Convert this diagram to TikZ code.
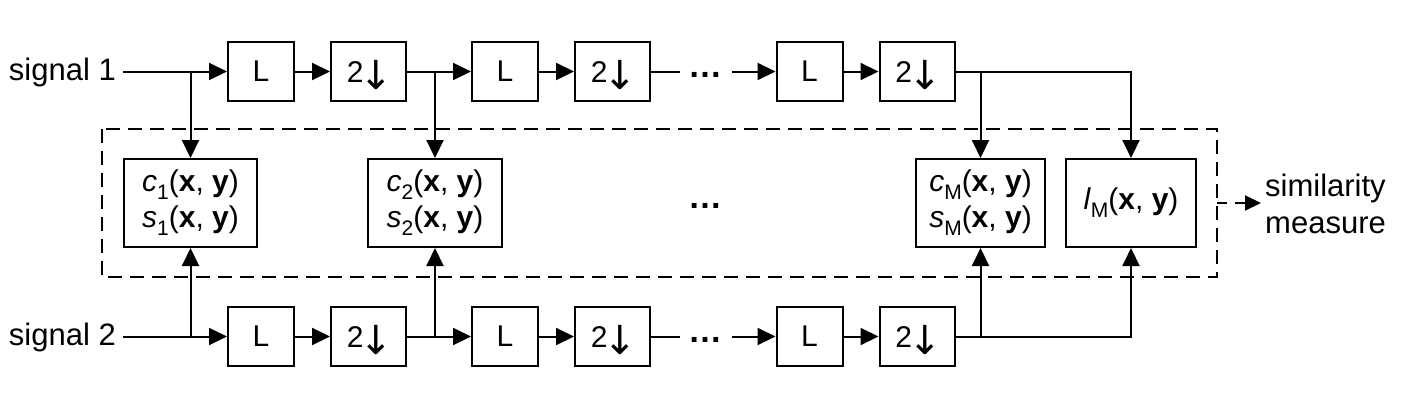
\documentclass[tikz,border=0pt]{standalone}
\usepackage{fontspec}
\setmainfont{Liberation Sans}
\newfontfamily\dejavu{DejaVu Sans}
\usetikzlibrary{arrows.meta}
\newcommand\lowsub[1]{\raisebox{-0.5ex}{\fontsize{21}{21}\selectfont #1}}
\newcommand\dnarrow{{\dejavu\fontsize{40}{40}\selectfont\kern-4pt\raisebox{-7pt}{↓}\kern-3pt}}
\begin{document}
\begin{tikzpicture}[x=1pt,y=-1pt,
  lw/.style={line width=2pt},
  blk/.style={draw,lw,inner sep=0pt,font=\fontsize{30}{36}\selectfont,align=center},
  lbox/.style={blk,minimum width=66pt,minimum height=59pt},
  dbox/.style={blk,minimum width=75pt,minimum height=59pt,text height=21pt,text depth=0pt},
  mbox/.style={blk,minimum height=88pt},
  arr/.style={lw,-{Triangle[length=18pt,width=17pt]}},
  lab/.style={font=\fontsize{31}{37}\selectfont,inner sep=0pt},
  dots/.style={inner sep=0pt,anchor=base,font=\fontsize{34}{36}\selectfont\bfseries}
]
\useasboundingbox (0,0) rectangle (1420,402);

% top row
\node[lab,anchor=base east] (s1) at (116,80) {signal 1};
\coordinate (s1o) at (123,71.5);
\node[lbox] (L1) at (261,71.5) {L};
\node[dbox] (D1) at (368.5,71.5) {2\dnarrow};
\node[lbox] (L2) at (505,71.5) {L};
\node[dbox] (D2) at (612.5,71.5) {2\dnarrow};
\node[dots] (tdots) at (705,77) {…};
\coordinate (td1) at (680,71.5);
\coordinate (td2) at (732,71.5);
\node[lbox] (L3) at (809.5,71.5) {L};
\node[dbox] (D3) at (917,71.5) {2\dnarrow};

% bottom row
\node[lab,anchor=base east] (s2) at (116,345) {signal 2};
\coordinate (s2o) at (123,336.5);
\node[lbox] (BL1) at (261,336.5) {L};
\node[dbox] (BD1) at (368.5,336.5) {2\dnarrow};
\node[lbox] (BL2) at (505,336.5) {L};
\node[dbox] (BD2) at (612.5,336.5) {2\dnarrow};
\node[dots] (bdots) at (705,342) {…};
\coordinate (bd1) at (680,336.5);
\coordinate (bd2) at (732,336.5);
\node[lbox] (BL3) at (809.5,336.5) {L};
\node[dbox] (BD3) at (917,336.5) {2\dnarrow};

% middle
\draw[lw,dash pattern=on 14pt off 8pt] (102,129) rectangle (1217,277);
\coordinate (dbR) at (1217,203);
\node[mbox,minimum width=133pt] (c1) at (190.5,203)
  {\textit{c}\lowsub{1}(\textbf{x}, \textbf{y})\\\textit{s}\lowsub{1}(\textbf{x}, \textbf{y})};
\node[mbox,minimum width=134pt] (c2) at (435,203)
  {\textit{c}\lowsub{2}(\textbf{x}, \textbf{y})\\\textit{s}\lowsub{2}(\textbf{x}, \textbf{y})};
\node[dots] (mdots) at (705,208) {…};
\node[mbox,minimum width=129pt] (cM) at (980.5,203)
  {\textit{c}\lowsub{M}(\textbf{x}, \textbf{y})\\\textit{s}\lowsub{M}(\textbf{x}, \textbf{y})};
\node[mbox,minimum width=130pt] (lM) at (1131,203)
  {\textit{l}\lowsub{M}(\textbf{x}, \textbf{y})};
\node[lab,anchor=west,align=left] (sim) at (1265,204) {similarity\\measure};
\coordinate (simo) at (1261,203);

% top connectors
\draw[arr] (s1o) -- (L1.west);
\draw[arr] (L1.east) -- (D1.west);
\draw[arr] (D1.east) -- (L2.west);
\draw[arr] (L2.east) -- (D2.west);
\draw[lw] (D2.east) -- (td1);
\draw[arr] (td2) -- (L3.west);
\draw[arr] (L3.east) -- (D3.west);
\draw[arr] (D3.east) -- (D3.east -| lM.north) -- (lM.north);
\draw[arr] (c1.north |- L1.west) -- (c1.north);
\draw[arr] (c2.north |- L2.west) -- (c2.north);
\draw[arr] (cM.north |- D3.east) -- (cM.north);

% bottom connectors
\draw[arr] (s2o) -- (BL1.west);
\draw[arr] (BL1.east) -- (BD1.west);
\draw[arr] (BD1.east) -- (BL2.west);
\draw[arr] (BL2.east) -- (BD2.west);
\draw[lw] (BD2.east) -- (bd1);
\draw[arr] (bd2) -- (BL3.west);
\draw[arr] (BL3.east) -- (BD3.west);
\draw[arr] (BD3.east) -- (BD3.east -| lM.south) -- (lM.south);
\draw[arr] (c1.south |- BL1.west) -- (c1.south);
\draw[arr] (c2.south |- BL2.west) -- (c2.south);
\draw[arr] (cM.south |- BD3.east) -- (cM.south);

% output
\draw[lw,dash pattern=on 10pt off 8pt,-{Triangle[length=16pt,width=15pt]}] (dbR) -- (simo);
\end{tikzpicture}
\end{document}
